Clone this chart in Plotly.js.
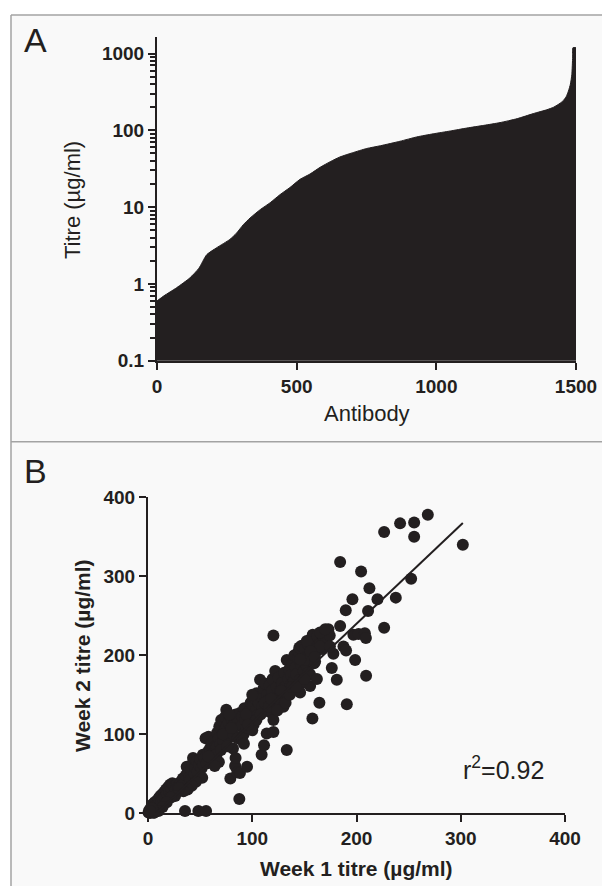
<!DOCTYPE html>
<html><head><meta charset="utf-8">
<script src="https://cdn.plot.ly/plotly-3.0.1.min.js"></script>
<style>html,body{margin:0;padding:0;background:#fff}#chart{width:602px;height:886px}</style>
</head><body><div id="chart"></div>
<script>
// Panel A: titre of each antibody, sorted
const antibodyRank = [0, 25, 70, 118, 150, 178, 213, 261, 285, 309, 333, 370, 405, 440, 476, 512, 548, 584, 620, 655, 700, 751, 800, 870, 930, 989, 1050, 1109, 1170, 1228, 1290, 1347, 1395, 1420, 1443, 1455, 1465, 1473, 1480, 1485, 1488, 1489, 1500];
const titre = [0.6, 0.7, 0.89, 1.2, 1.6, 2.4, 2.95, 3.8, 4.6, 5.9, 7.2, 9.3, 11.4, 14.5, 18, 23, 27, 33, 39, 45, 51, 58, 63, 72, 82, 90, 98, 107, 116, 126, 142, 165, 185, 200, 225, 245, 275, 325, 400, 530, 900, 1190, 1190];
const titreTickVals = [0.1, 1, 10, 100, 1000];
const titreTickText = ['0.1', '1', '10', '100', '1000'];
const titreMinorTicks = [0.2, 0.3, 0.4, 0.5, 0.6, 0.7, 0.8, 0.9, 2, 3, 4, 5, 6, 7, 8, 9, 20, 30, 40, 50, 60, 70, 80, 90, 200, 300, 400, 500, 600, 700, 800, 900];
const rankTickVals = [0, 500, 1000, 1500];

// Panel B: week 1 vs week 2 titre
const week1 = [0.5,1.2,2,2.8,3.5,4.1,5,5.6,6.3,7,7.8,8.5,9.4,10.2,11,11.8,12.5,13.6,14.2,15.5,16.1,17.3,18,19.2,20.4,21.1,22.5,23.3,24.1,25.6,26.4,27.8,28.9,30.2,31.5,32.7,33.4,35.5,34.8,36.2,37.1,38.4,39.6,40.3,41.5,42.7,43.2,44.6,45.3,46.8,47.5,48.3,48.9,50.2,51.4,52.6,53.1,54.4,55.7,55.2,56.3,57.5,58.1,59.4,60.6,61.2,62.8,63.5,64.7,65.9,66.3,67.8,68.4,69.5,70.2,71.6,72.3,73.8,74.5,75.1,75.5,76.7,77.4,78.9,79,80.2,81.5,82.3,83.6,84.1,85.7,86.2,87.6,88.2,88.2,89.5,90.3,91.7,92.4,93.1,94.6,95,96.3,97.9,98.5,99.2,100.6,101.3,102.8,103.4,104.3,105.7,106.2,107.5,108.1,109,109.6,110.8,111.3,112.5,113.9,114.4,115.2,116.7,117.3,118.9,119.5,120.3,120.3,120.3,121.6,122,123.4,124.7,125.2,126.8,127.1,128.5,129.9,130.6,131.2,132.4,133.1,133.1,133.1,134.7,135.3,136.8,137.2,138.5,139.9,140.4,141.6,142.3,143.8,144.5,145.2,145.9,146.7,147.3,148.6,149.4,150.7,151.2,152.3,153.5,154.7,155.4,156.1,157.7,158,158.7,159.3,160.5,161.6,162.2,163.8,164.4,165,166.3,167.1,168.5,169.9,170.6,172.2,173,174.3,176.3,177.8,181.1,184.3,184.3,187.5,189.7,190.7,190,196.1,197,198.7,202,204.4,208,209,209.2,211.1,212.4,220.1,226.5,226.5,237.7,241.8,252.4,255.3,255.3,268.4,302,152.3,165,170,158.7,150.7,160.3,154,147.5,155.5,145.9,165,174.5,62,66,70,72,78,82,86,90,94,100,104,108,112,116,118,124,128,132,136,138,142,146,150,156,160,162,100,96,92,84,80,76,68,64,58,52,46,42,38,34,30,26,22,18,14,10,6,4,2];
const week2 = [1,4,0.5,7,2,11,5,0.8,14,9,3,16,11,19,6,22,15,24,18,27,21,30,25,33,28,36,31,38,36,34,30,37,33,29,40,35,44,3,38,48,59,52,45,42,55,63,70,50,58,66,53,3,61,68,57,74,62,70,3,95,63,78,97,82,69,88,76,92,85,84,102,95,110,88,118,100,92,122,108,131,110,96,115,104,44,120,82,112,60,125,52,118,18,51,127,110,123,100,133,118,108,59,128,131,140,122,136,112,145,130,152,125,140,169,148,74,135,158,86,164,101,150,143,162,128,155,170,118,225,103,140,180,160,148,172,155,138,165,135,178,160,150,194,80,152,170,182,162,175,190,168,200,185,176,196,205,210,169,188,212,195,180,208,198,186,214,200,176,220,120,226,203,190,216,205,224,212,140,215,228,208,222,230,218,232,233,225,184,202,169,237,318,211,257,138,206,271,226,194,227,306,228,222,174,256,285,271,235,356,273,367,297,368,350,378,340,218,229,233,202,194,192,178,165,161,153,211,211,70,75,80,100,125,100,95,95,125,105,118,125,140,135,145,130,155,140,150,160,160,195,170,205,198,170,150,112,88,70,108,85,65,60,72,45,40,35,30,28,32,22,20,14,8,3,1,6,3];
const fitX = [0, 302];
const fitY = [-10, 367.5];
const weekTickVals = [0, 100, 200, 300, 400];

const ink = '#231f20';
const fam = 'Liberation Sans, Arial, Helvetica, sans-serif';
const W = 602, H = 886;
const px = v => v / W;
const py = v => 1 - v / H;

const tickFont = {family: fam, size: 19, color: ink, weight: 'bold'};
const axisCommon = {
  showline: true, linewidth: 2, linecolor: ink, ticks: 'outside', ticklen: 7, tickwidth: 2,
  tickcolor: ink, tickfont: tickFont, showgrid: false, zeroline: false, fixedrange: true, tickmode: 'array'
};

const data = [
  {x: antibodyRank, y: titre, xaxis: 'x', yaxis: 'y', type: 'scatter', mode: 'lines',
   fill: 'tozeroy', fillcolor: ink, line: {color: ink, width: 1, shape: 'spline', smoothing: 0.6}, hoverinfo: 'skip'},
  {x: week1, y: week2, xaxis: 'x2', yaxis: 'y2', type: 'scatter', mode: 'markers',
   marker: {size: 12, color: ink}, cliponaxis: false, hoverinfo: 'skip'},
  {x: fitX, y: fitY, xaxis: 'x2', yaxis: 'y2', type: 'scatter', mode: 'lines',
   line: {color: ink, width: 2}, hoverinfo: 'skip'}
];

const layout = {
  width: W, height: H, margin: {l: 0, r: 0, t: 0, b: 0},
  paper_bgcolor: '#ffffff', plot_bgcolor: 'rgba(0,0,0,0)', showlegend: false,
  font: {family: fam, color: ink},
  xaxis: Object.assign({}, axisCommon, {domain: [px(157), px(576)], range: [0, 1500], anchor: 'y', tickvals: rankTickVals}),
  yaxis: Object.assign({}, axisCommon, {domain: [py(360.7), py(37)], type: 'log', range: [-1, 3.215], anchor: 'x',
    tickvals: titreTickVals, ticktext: titreTickText,
    minor: {tickmode: 'array', tickvals: titreMinorTicks, ticks: 'outside', ticklen: 5, tickwidth: 2, tickcolor: ink, showgrid: false}}),
  xaxis2: Object.assign({}, axisCommon, {domain: [px(148), px(565)], range: [0, 400], anchor: 'y2', tickvals: weekTickVals}),
  yaxis2: Object.assign({}, axisCommon, {domain: [py(813.3), py(497.3)], range: [0, 400], anchor: 'x2', tickvals: weekTickVals}),
  shapes: [
    {type: 'rect', xref: 'paper', yref: 'paper', x0: px(11), x1: 1, y0: 0, y1: py(15), fillcolor: '#f9f9f9', line: {width: 0}, layer: 'below'},
    {type: 'line', xref: 'paper', yref: 'paper', x0: px(11), x1: 1, y0: py(15), y1: py(15), line: {color: '#a3a3a3', width: 1.5}},
    {type: 'line', xref: 'paper', yref: 'paper', x0: px(11), x1: 1, y0: py(441.7), y1: py(441.7), line: {color: '#a3a3a3', width: 1.5}},
    {type: 'line', xref: 'paper', yref: 'paper', x0: px(11), x1: px(11), y0: 0, y1: py(15), line: {color: '#a3a3a3', width: 1.5}}
  ],
  annotations: [
    {text: 'A', xref: 'paper', yref: 'paper', x: px(35), y: py(40), showarrow: false, xanchor: 'center', yanchor: 'middle', font: {family: fam, size: 34, color: ink}},
    {text: 'B', xref: 'paper', yref: 'paper', x: px(35), y: py(471), showarrow: false, xanchor: 'center', yanchor: 'middle', font: {family: fam, size: 34, color: ink}},
    {text: 'Titre (µg/ml)', xref: 'paper', yref: 'paper', x: px(73), y: py(200), textangle: -90, showarrow: false, xanchor: 'center', yanchor: 'middle', font: {family: fam, size: 22, color: ink}},
    {text: 'Antibody', xref: 'paper', yref: 'paper', x: px(367), y: py(414), showarrow: false, xanchor: 'center', yanchor: 'middle', font: {family: fam, size: 22, color: ink}},
    {text: 'Week 2 titre (µg/ml)', xref: 'paper', yref: 'paper', x: px(82), y: py(656), textangle: -90, showarrow: false, xanchor: 'center', yanchor: 'middle', font: {family: fam, size: 21, color: ink, weight: 'bold'}},
    {text: 'Week 1 titre (µg/ml)', xref: 'paper', yref: 'paper', x: px(356), y: py(868), showarrow: false, xanchor: 'center', yanchor: 'middle', font: {family: fam, size: 21, color: ink, weight: 'bold'}},
    {text: 'r<sup>2</sup>=0.92', xref: 'paper', yref: 'paper', x: px(503), y: py(768), showarrow: false, xanchor: 'center', yanchor: 'middle', font: {family: fam, size: 25, color: ink}}
  ]
};

Plotly.newPlot('chart', data, layout, {staticPlot: true, displayModeBar: false});
</script>
</body></html>
